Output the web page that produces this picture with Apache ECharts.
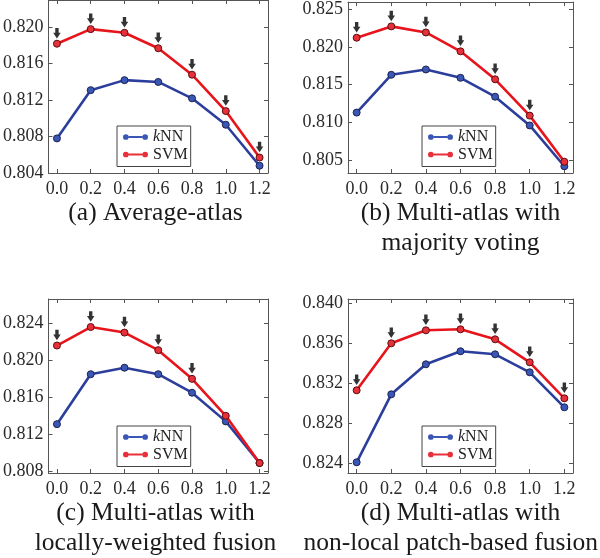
<!DOCTYPE html>
<html>
<head>
<meta charset="utf-8">
<script src="https://cdn.jsdelivr.net/npm/echarts@6/dist/echarts.min.js"></script>
<style>
html,body{margin:0;padding:0;background:#fff;}
#c{width:600px;height:558px;}
</style>
</head>
<body>
<div id="c"></div>
<script>
// ---- data ----
const xValues = [0.0, 0.2, 0.4, 0.6, 0.8, 1.0, 1.2];
const xTicks = [0.0, 0.2, 0.4, 0.6, 0.8, 1.0, 1.2];

const knnA = [0.8078, 0.8131, 0.8142, 0.8140, 0.8122, 0.8093, 0.8048];
const svmA = [0.8182, 0.8198, 0.8194, 0.8177, 0.8148, 0.8108, 0.8057];
const arrowsA = [1, 1, 1, 1, 1, 1, 1];
const yTicksA = [0.804, 0.808, 0.812, 0.816, 0.820];
const yRangeA = [0.804, 0.8230];

const knnB = [0.8113, 0.8163, 0.8170, 0.8159, 0.8134, 0.8096, 0.8042];
const svmB = [0.8212, 0.8227, 0.8219, 0.8194, 0.8157, 0.8109, 0.8048];
const arrowsB = [1, 1, 1, 1, 1, 1, 0];
const yTicksB = [0.805, 0.810, 0.815, 0.820, 0.825];
const yRangeB = [0.80331, 0.82591];

const knnC = [0.8131, 0.8185, 0.8192, 0.8185, 0.8165, 0.8134, 0.8089];
const svmC = [0.8216, 0.8236, 0.8230, 0.8211, 0.8180, 0.8140, 0.8089];
const arrowsC = [1, 1, 1, 1, 1, 0, 0];
const yTicksC = [0.808, 0.812, 0.816, 0.820, 0.824];
const yRangeC = [0.80782, 0.82663];

const knnD = [0.8241, 0.8309, 0.8339, 0.8352, 0.8349, 0.8331, 0.8296];
const svmD = [0.8313, 0.8360, 0.8373, 0.8374, 0.8364, 0.8341, 0.8305];
const arrowsD = [1, 1, 1, 1, 1, 1, 1];
const yTicksD = [0.824, 0.828, 0.832, 0.836, 0.840];
const yRangeD = [0.82303, 0.84043];

const xRange = [-0.05, 1.25];
const seriesNames = ['kNN', 'SVM'];
const captionLines = [
  ['(a) Average-atlas'],
  ['(b) Multi-atlas with', 'majority voting'],
  ['(c) Multi-atlas with', 'locally-weighted fusion'],
  ['(d) Multi-atlas with', 'non-local patch-based fusion']
];

// ---- styles / layout ----
const FONT = '"Liberation Serif", "Times New Roman", serif';
const CAPTION_FONT = '25.5px "Liberation Serif", "Times New Roman", serif';
const frame = '#555';
const labelColor = '#2a2a2a';
const knnStyle = { line: '#2C3E9C', fill: '#3B57B5', edge: '#1B2350' };
const svmStyle = { line: '#E8141C', fill: '#E8303A', edge: '#5A0E0E' };
const panels = [
  { knn: knnA, svm: svmA, arrows: arrowsA, ticks: yTicksA, range: yRangeA, left: 43, top: -1 },
  { knn: knnB, svm: svmB, arrows: arrowsB, ticks: yTicksB, range: yRangeB, left: 348, top: -1 },
  { knn: knnC, svm: svmC, arrows: arrowsC, ticks: yTicksC, range: yRangeC, left: 43, top: 299 },
  { knn: knnD, svm: svmD, arrows: arrowsD, ticks: yTicksD, range: yRangeD, left: 348, top: 299 }
];
const W = 225, H = 174;

const measureCtx = document.createElement('canvas').getContext('2d');
measureCtx.font = CAPTION_FONT;

const grid = [], xAxis = [], yAxis = [], series = [], legend = [], graphic = [];
const arrowPath = 'path://M2.2,0 L5.8,0 L5.8,5 L8,5 L4,11 L0,5 L2.2,5 Z';
const legendIcon = 'path://M0.2,3 A2.8,2.8 0 1,1 5.8,3 L19.2,3 A2.8,2.8 0 1,1 24.8,3 A2.8,2.8 0 1,1 19.2,3 L19.2,4.1 L5.8,4.1 L5.8,3 A2.8,2.8 0 1,1 0.2,3 Z M5.8,1.9 L19.2,1.9 L19.2,3 L5.8,3 Z';

panels.forEach((p, i) => {
  grid.push({ left: p.left, top: p.top, width: W, height: H, containLabel: false });
  const axCommon = { gridIndex: i, type: 'value', splitLine: { show: false } };
  xAxis.push(Object.assign({}, axCommon, {
    min: xRange[0], max: xRange[1], position: 'bottom',
    axisLine: { show: true, onZero: false, lineStyle: { color: frame, width: 1 } },
    axisTick: { show: true, inside: true, length: 4, customValues: xTicks, lineStyle: { color: frame } },
    axisLabel: { show: true, customValues: xTicks, formatter: v => v.toFixed(1), margin: 7,
      fontFamily: FONT, fontSize: 18, color: labelColor }
  }));
  xAxis.push(Object.assign({}, axCommon, {
    min: xRange[0], max: xRange[1], position: 'top',
    axisLine: { show: true, onZero: false, lineStyle: { color: frame, width: 1 } },
    axisTick: { show: true, inside: true, length: 4, customValues: xTicks, lineStyle: { color: frame } },
    axisLabel: { show: false }
  }));
  yAxis.push(Object.assign({}, axCommon, {
    min: p.range[0], max: p.range[1], position: 'left',
    axisLine: { show: true, onZero: false, lineStyle: { color: frame, width: 1 } },
    axisTick: { show: true, inside: true, length: 4, customValues: p.ticks, lineStyle: { color: frame } },
    axisLabel: { show: true, customValues: p.ticks, formatter: v => v.toFixed(3), margin: 5,
      fontFamily: FONT, fontSize: 18, color: labelColor }
  }));
  yAxis.push(Object.assign({}, axCommon, {
    min: p.range[0], max: p.range[1], position: 'right',
    axisLine: { show: true, onZero: false, lineStyle: { color: frame, width: 1 } },
    axisTick: { show: true, inside: true, length: 4, customValues: p.ticks, lineStyle: { color: frame } },
    axisLabel: { show: false }
  }));
  const xi = i * 2, yi = i * 2;
  [[seriesNames[0], p.knn, knnStyle], [seriesNames[1], p.svm, svmStyle]].forEach(([name, vals, st]) => {
    series.push({
      name: name, type: 'line', xAxisIndex: xi, yAxisIndex: yi,
      data: xValues.map((x, k) => [x, vals[k]]),
      symbol: 'circle', symbolSize: 7,
      lineStyle: { color: st.line, width: 2.6 },
      itemStyle: { color: st.fill, borderColor: st.edge, borderWidth: 1 },
      emphasis: { disabled: true }, animation: false, z: name === 'SVM' ? 3 : 2
    });
  });
  series.push({
    name: 'sig' + i, type: 'scatter', xAxisIndex: xi, yAxisIndex: yi,
    data: xValues.map((x, k) => [x, p.svm[k]]).filter((d, k) => p.arrows[k]),
    symbol: arrowPath, symbolSize: [7.5, 10.5], symbolOffset: [0, -10.5],
    itemStyle: { color: '#000' }, silent: true, animation: false, z: 5
  });
  legend.push({
    data: seriesNames, orient: 'vertical',
    left: p.left + 74, top: p.top + H - 47,
    backgroundColor: '#fff', borderColor: '#444', borderWidth: 1,
    padding: [3, 3, 4, 6], itemGap: 1.5,
    itemWidth: 25, itemHeight: 6, icon: legendIcon,
    itemStyle: { borderWidth: 0 },
    selectedMode: false,
    formatter: n => n === 'kNN' ? '{i|k}NN' : n,
    textStyle: { fontFamily: FONT, fontSize: 16, color: '#222', lineHeight: 16,
      rich: { i: { fontFamily: FONT, fontStyle: 'italic', fontSize: 16, color: '#222' } } }
  });
  const cx = p.left + W / 2;
  captionLines[i].forEach((line, j) => {
    const w = measureCtx.measureText(line).width;
    // an over-long caption line is pushed left so it stays inside the picture
    const x = Math.min(cx, 598 - w / 2);
    graphic.push({
      type: 'text', x: x, y: p.top + H + 40 + j * 30,
      style: { text: line, align: 'center', verticalAlign: 'middle',
        font: CAPTION_FONT, fill: '#1a1a1a' },
      silent: true
    });
  });
});

const chart = echarts.init(document.getElementById('c'), null, { renderer: 'canvas' });
chart.setOption({
  animation: false,
  backgroundColor: '#fff',
  grid, xAxis, yAxis, series, legend, graphic
});
</script>
</body>
</html>
